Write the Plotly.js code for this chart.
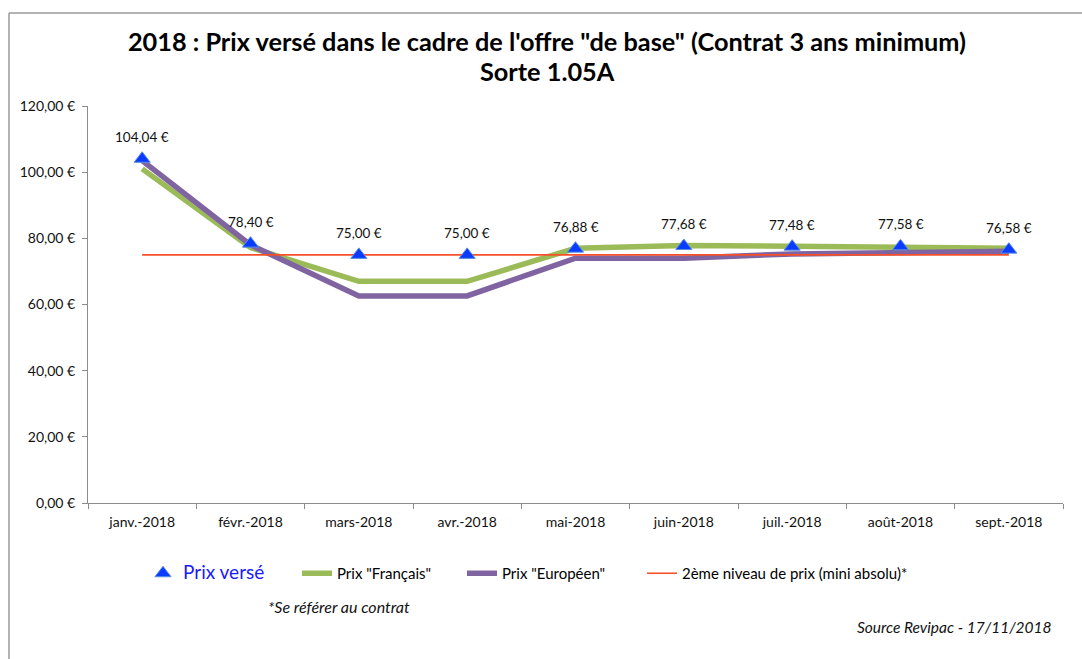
<!DOCTYPE html>
<html>
<head>
<meta charset="utf-8">
<script src="https://cdn.plot.ly/plotly-3.0.1.min.js"></script>
<style>html,body{margin:0;padding:0;background:#fff;}#chart{width:1082px;height:659px;}</style>
</head>
<body>
<div id="chart"></div>
<script>
const months = ["janv.-2018","févr.-2018","mars-2018","avr.-2018","mai-2018","juin-2018","juil.-2018","août-2018","sept.-2018"];
const prixVerse = [104.04, 78.40, 75.00, 75.00, 76.88, 77.68, 77.48, 77.58, 76.58];
const prixFrancais = [101.0, 77.2, 67.0, 67.0, 77.0, 77.8, 77.6, 77.5, 77.0];
const prixEuropeen = [103.5, 78.0, 62.6, 62.6, 74.0, 74.0, 75.3, 75.8, 76.1];
const niveau2 = [75, 75, 75, 75, 75, 75, 75, 75, 75];
const yTicks = [0, 20, 40, 60, 80, 100, 120];

const FONT = "Lato, 'Open Sans', sans-serif";
const eur = v => v.toFixed(2).replace(".", ",") + " €";

const traces = [
  {x: months, y: prixFrancais, type: "scatter", mode: "lines", name: 'Prix "Français"',
   line: {color: "#9bbb59", width: 5.5}, legend: "legend2", hoverinfo: "skip"},
  {x: months, y: prixEuropeen, type: "scatter", mode: "lines", name: 'Prix "Européen"',
   line: {color: "#8064a2", width: 5.5}, legend: "legend3", hoverinfo: "skip"},
  {x: months, y: niveau2, type: "scatter", mode: "lines", name: "2ème niveau de prix (mini absolu)*",
   line: {color: "#f5502a", width: 1.6}, legend: "legend4", hoverinfo: "skip"},
  {x: months, y: prixVerse, type: "scatter", mode: "markers",
   name: '<span style="font-size:19px;color:#1a1aff">Prix versé</span>',
   marker: {symbol: "triangle-up", size: 14, color: "#0a3cff", line: {color: "#5b8ee0", width: 1}},
   legend: "legend", hoverinfo: "skip"}
];

const px2paperX = v => (v - 88) / 975;
const px2paperY = v => (503 - v) / 397;

const labelAnns = months.map((m, i) => ({
  x: m, y: prixVerse[i], xref: "x", yref: "y", text: eur(prixVerse[i]), showarrow: false,
  xanchor: "center", yanchor: "middle", yshift: 22, font: {family: FONT, size: 13.5, color: "#111"}
}));

const legendAt = xpx => ({orientation: "h", x: px2paperX(xpx), xanchor: "left", y: px2paperY(557), yanchor: "top",
  font: {family: FONT, size: 15, color: "#000"}, itemwidth: 30, bgcolor: "rgba(0,0,0,0)"});

const layout = {
  width: 1082, height: 659,
  margin: {l: 88, r: 19, t: 106, b: 156},
  paper_bgcolor: "#fff", plot_bgcolor: "#fff",
  font: {family: FONT, size: 14, color: "#111"},
  showlegend: true,
  title: {text: "<b>2018 : Prix versé dans le cadre de l'offre \"de base\" (Contrat 3 ans minimum)</b>",
          font: {family: FONT, size: 25.3, color: "#000"}, x: 547 / 1082, xanchor: "center",
          y: 1 - 42 / 659, yanchor: "middle"},
  xaxis: {type: "category", range: [-0.5, 8.5], showline: true, linecolor: "#8c8c8c", linewidth: 1,
          ticks: "outside", tickson: "boundaries", ticklen: 5, tickcolor: "#8c8c8c", ticklabelstandoff: 6,
          showgrid: false, zeroline: false, tickfont: {family: FONT, size: 14, color: "#111"}, fixedrange: true},
  yaxis: {range: [0, 120], tickvals: yTicks, ticktext: yTicks.map(eur), ticklabelstandoff: 4,
          showline: true, linecolor: "#8c8c8c", linewidth: 1, ticks: "outside", ticklen: 5, tickcolor: "#8c8c8c",
          showgrid: false, zeroline: false, tickfont: {family: FONT, size: 14, color: "#111"}, fixedrange: true},
  legend: legendAt(143),
  legend2: legendAt(297),
  legend3: legendAt(462),
  legend4: legendAt(642),
  annotations: labelAnns.concat([
    {text: "<b>Sorte 1.05A</b>", xref: "paper", yref: "paper", x: px2paperX(547), y: px2paperY(71),
     xanchor: "center", yanchor: "middle", showarrow: false, font: {family: FONT, size: 25.3, color: "#000"}},
    {text: "<i>*Se référer au contrat</i>", xref: "paper", yref: "paper", x: px2paperX(339), y: px2paperY(606),
     xanchor: "center", yanchor: "middle", showarrow: false, font: {family: FONT, size: 16, color: "#111"}},
    {text: "<i>Source Revipac - 17/11/2018</i>", xref: "paper", yref: "paper", x: px2paperX(1054), y: px2paperY(627),
     xanchor: "right", yanchor: "middle", showarrow: false, font: {family: FONT, size: 15.5, color: "#111"}}
  ]),
  shapes: [
    {type: "line", xref: "paper", yref: "paper", x0: px2paperX(9), x1: px2paperX(9), y0: px2paperY(13), y1: px2paperY(659),
     line: {color: "#9a9a9a", width: 1.5}},
    {type: "line", xref: "paper", yref: "paper", x0: px2paperX(9), x1: px2paperX(1082), y0: px2paperY(13), y1: px2paperY(13),
     line: {color: "#9a9a9a", width: 1.5}}
  ]
};

Plotly.newPlot("chart", traces, layout, {displayModeBar: false, staticPlot: true});
</script>
</body>
</html>
